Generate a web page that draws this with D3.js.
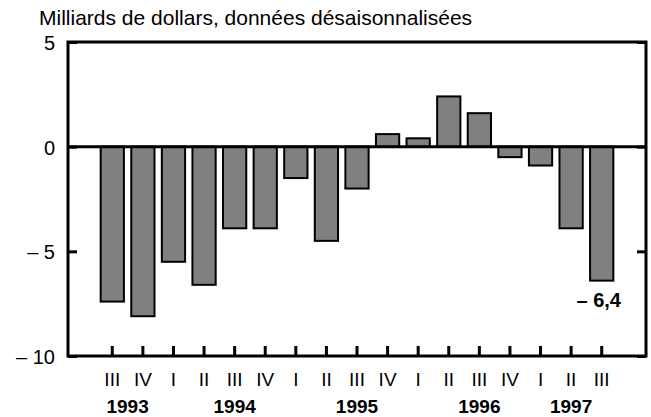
<!DOCTYPE html>
<html>
<head>
<meta charset="utf-8">
<script src="https://cdn.jsdelivr.net/npm/d3@7"></script>
<style>
	body { margin: 0; background: #fff; }
	svg { display: block; font-family: "Liberation Sans", Arial, sans-serif; }
	.axis text { font-size: 19px; fill: #000; }
	.axis line { stroke: #000; stroke-width: 3; }
</style>
</head>
<body>
<svg id="chart" width="651" height="417"></svg>
<script>
// quarters, with the year each belongs to
var quarters = ['III', 'IV', 'I', 'II', 'III', 'IV', 'I', 'II', 'III', 'IV', 'I', 'II', 'III', 'IV', 'I', 'II', 'III'];
var quarterYears = [1993, 1993, 1994, 1994, 1994, 1994, 1995, 1995, 1995, 1995, 1996, 1996, 1996, 1996, 1997, 1997, 1997];
var values = [-7.4, -8.1, -5.5, -6.6, -3.9, -3.9, -1.5, -4.5, -2.0, 0.6, 0.4, 2.4, 1.6, -0.5, -0.9, -3.9, -6.4];
var yTicks = [5, 0, -5, -10];
var years = ['1993', '1994', '1995', '1996', '1997'];
// which quarter(s) each year label sits under
var yearAnchors = [['1993-III', '1993-IV'], ['1994-III'], ['1995-III'], ['1996-III'], ['1997-II']];
var title = 'Milliards de dollars, données désaisonnalisées';

var keys = quarters.map(function(q, i){ return quarterYears[i] + '-' + q; });
var data = keys.map(function(k, i){ return {key: k, q: quarters[i], v: values[i]}; });

// plot frame (window.top is taken, hence the prefix)
var plotLeft = 68, plotRight = 646, plotTop = 42, plotBottom = 356;

var svg = d3.select('#chart');

var x = d3.scaleBand()
	.domain(keys)
	.range([97, 617])
	.paddingInner(0.24)
	.paddingOuter(0.12);

var y = d3.scaleLinear()
	.domain([-10, 5])
	.range([plotBottom, plotTop]);

function fmt(v){
	if (v < 0) return '\u2013 ' + String(Math.abs(v)).replace('.', ',');
	return String(v).replace('.', ',');
}

function center(k){ return x(k) + x.bandwidth() / 2; }

svg.append('text')
	.attr('x', 39)
	.attr('y', 25)
	.style('font-size', '21px')
	.text(title);

// bars
svg.append('g')
	.selectAll('rect')
	.data(data)
	.enter()
	.append('rect')
	.attr('x', function(d){ return x(d.key); })
	.attr('width', x.bandwidth())
	.attr('y', function(d){ return y(Math.max(0, d.v)); })
	.attr('height', function(d){ return Math.abs(y(d.v) - y(0)); })
	.attr('fill', '#808080')
	.attr('stroke', '#000')
	.attr('stroke-width', 2);

// zero line
svg.append('line')
	.attr('x1', plotLeft).attr('x2', plotRight)
	.attr('y1', y(0)).attr('y2', y(0))
	.attr('stroke', '#000')
	.attr('stroke-width', 3);

// bottom ticks + quarter labels
var xAxis = svg.append('g')
	.attr('class', 'axis')
	.attr('transform', 'translate(0,' + plotBottom + ')')
	.call(d3.axisBottom(x).tickSizeInner(-10).tickSizeOuter(0).tickPadding(17)
		.tickFormat(function(k){ return k.split('-')[1]; }));
xAxis.select('.domain').remove();

var yAxis = svg.append('g')
	.attr('class', 'axis')
	.attr('transform', 'translate(' + plotLeft + ',0)')
	.call(d3.axisLeft(y).tickValues(yTicks).tickSizeInner(-9).tickSizeOuter(0).tickPadding(13).tickFormat(fmt));
yAxis.select('.domain').remove();
yAxis.selectAll('text').attr('dy', '0.38em').style('font-size', '20px');

var yAxisR = svg.append('g')
	.attr('class', 'axis')
	.attr('transform', 'translate(' + plotRight + ',0)')
	.call(d3.axisRight(y).tickValues(yTicks).tickSizeInner(-9).tickSizeOuter(0).tickFormat(''));
yAxisR.select('.domain').remove();

// frame
svg.append('rect')
	.attr('x', plotLeft).attr('y', plotTop)
	.attr('width', plotRight - plotLeft).attr('height', plotBottom - plotTop)
	.attr('fill', 'none')
	.attr('stroke', '#000')
	.attr('stroke-width', 3);

// year labels
svg.append('g')
	.selectAll('text')
	.data(years)
	.enter()
	.append('text')
	.attr('x', function(yr, i){ return d3.mean(yearAnchors[i], center); })
	.attr('y', 413)
	.attr('text-anchor', 'middle')
	.style('font-size', '19px')
	.style('font-weight', 'bold')
	.text(function(yr){ return yr; });

// last value label
var last = data[data.length - 1];
svg.append('text')
	.attr('x', center(last.key) - 3)
	.attr('y', y(last.v) + 26)
	.attr('text-anchor', 'middle')
	.style('font-size', '20px')
	.style('font-weight', 'bold')
	.text(fmt(last.v));
</script>
</body>
</html>
